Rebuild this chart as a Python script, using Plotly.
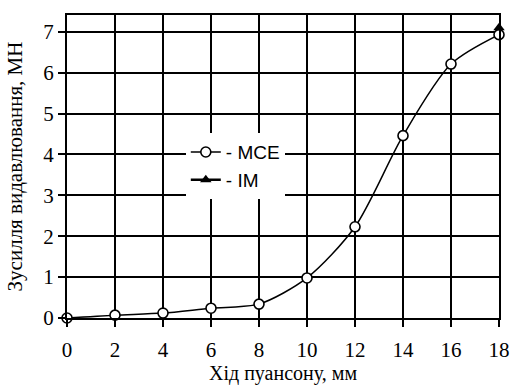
import plotly.graph_objects as go

stroke_mm = [0, 2, 4, 6, 8, 10, 12, 14, 16, 18]
force_mce = [0.0, 0.07, 0.12, 0.24, 0.34, 0.98, 2.23, 4.46, 6.21, 6.93]
stroke_im = [18]
force_im = [7.1]
x_ticks = [0, 2, 4, 6, 8, 10, 12, 14, 16, 18]
y_ticks = [0, 1, 2, 3, 4, 5, 6, 7]

serif = "Liberation Serif"
sans = "Liberation Sans"

fig = go.Figure()
fig.add_trace(go.Scatter(
    x=stroke_mm, y=force_mce, mode="lines+markers", name="- MCE",
    line=dict(color="black", width=1.5, shape="spline", smoothing=0.8),
    marker=dict(symbol="circle", size=10, color="white", line=dict(color="black", width=1.6)),
    cliponaxis=False, legendgroup="a",
))
fig.add_trace(go.Scatter(
    x=stroke_im, y=force_im, mode="lines+markers", name="- IM",
    line=dict(color="black", width=2.5),
    marker=dict(symbol="triangle-up", size=10, color="black"),
    cliponaxis=False, legendgroup="b",
))

fig.update_layout(
    width=513, height=385,
    margin=dict(l=67, r=14, t=15, b=67),
    paper_bgcolor="white", plot_bgcolor="white",
    legend=dict(x=0.275, y=0.61, xanchor="left", yanchor="top",
                bgcolor="white", borderwidth=0,
                font=dict(family=sans, size=19, color="black"),
                tracegroupgap=0, traceorder="grouped"),
    showlegend=True,
)
fig.update_xaxes(range=[0, 18], tickvals=x_ticks, automargin=False,
                 title=dict(text="Хід пуансону, мм", font=dict(family=serif, size=20, color="black")))
fig.update_yaxes(range=[0, 7.41], tickvals=y_ticks, automargin=False,
                 title=dict(text="Зусилля видавлювання, МН", font=dict(family=serif, size=21, color="black")))
fig.update_xaxes(showgrid=True, gridcolor="black", gridwidth=2)
fig.update_yaxes(showgrid=True, gridcolor="black", gridwidth=2)
fig.update_xaxes(showline=True, linecolor="black", linewidth=2, mirror=True,
                 ticks="outside", ticklen=7, tickwidth=2, tickcolor="black", zeroline=False,
                 tickfont=dict(family=serif, size=21, color="black"), ticklabelstandoff=5)
fig.update_yaxes(showline=True, linecolor="black", linewidth=2, mirror=True,
                 ticks="outside", ticklen=7, tickwidth=2, tickcolor="black", zeroline=False,
                 tickfont=dict(family=serif, size=21, color="black"))

fig.write_html("out.html")
